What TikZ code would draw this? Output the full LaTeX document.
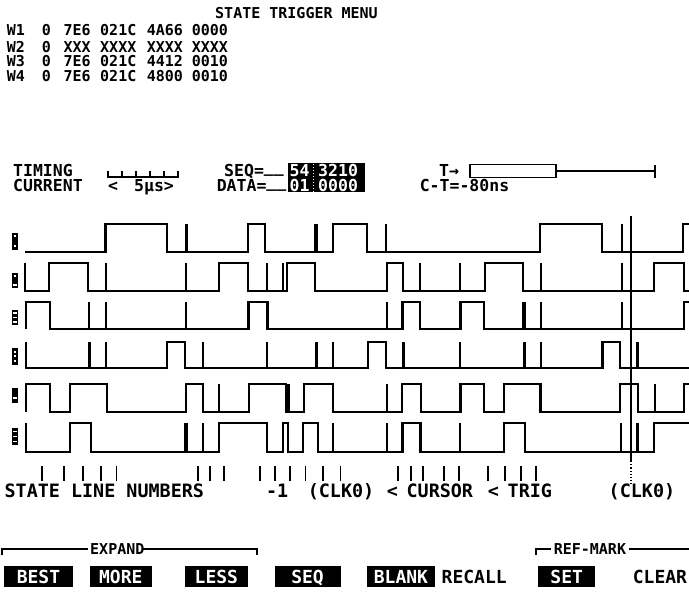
\documentclass[tikz,border=0pt]{standalone}
\usepackage{fontspec}
\newfontfamily\scr{DejaVu Sans Mono}
\tikzset{
  wave/.style={line width=2.1pt, line join=miter},
  spk/.style={line width=2.1pt},
  tspk/.style={line width=3.4pt},
  ttop/.style={font=\scr\bfseries\fontsize{15}{15}\selectfont, anchor=base west, inner sep=0pt, text height=11pt, text depth=0pt},
  tmid/.style={font=\scr\bfseries\fontsize{16.5}{16.5}\selectfont, anchor=base west, inner sep=0pt, text height=12pt, text depth=0pt},
  tbot/.style={font=\scr\bfseries\fontsize{18.4}{18.4}\selectfont, anchor=base west, inner sep=0pt, text height=13pt, text depth=0pt},
  tsmall/.style={font=\scr\bfseries\fontsize{15}{15}\selectfont, anchor=base west, inner sep=0pt, text height=11pt, text depth=0pt},
  btn/.style={fill=black, text=white, font=\scr\bfseries\fontsize{18}{18}\selectfont, inner sep=0pt, minimum height=21pt, text height=13pt, text depth=0pt},
  tbtn/.style={font=\scr\bfseries\fontsize{18}{18}\selectfont, anchor=base west, inner sep=0pt, text height=13pt, text depth=0pt},
  tick/.style={line width=1.8pt},
  lbl/.style={fill=black},
  wmark/.style={fill=white},
}
\newcommand{\usc}{\raisebox{3.2pt}{\_\_}}
\begin{document}
\begin{tikzpicture}[x=1pt,y=-1pt]
\fill[white] (0,0) rectangle (689,596);
\path[use as bounding box] (0,0) rectangle (689,596);

% ---------- top menu ----------
\node[ttop] (title) at (215,19) {STATE TRIGGER MENU};
\node[ttop] (w1a) at (6.7,35.9) {W1};
\node[ttop] (w1b) at (41.7,35.9) {0};
\node[ttop] (w1c) at (63.3,35.9) {7E6};
\node[ttop] (w1d) at (100,35.9) {021C};
\node[ttop] (w1e) at (146.7,35.9) {4A66};
\node[ttop] (w1f) at (191.7,35.9) {0000};
\node[ttop] (w2a) at (6.7,52.1) {W2};
\node[ttop] (w2b) at (41.7,52.1) {0};
\node[ttop] (w2c) at (63.3,52.1) {XXX};
\node[ttop] (w2d) at (100,52.1) {XXXX};
\node[ttop] (w2e) at (146.7,52.1) {XXXX};
\node[ttop] (w2f) at (191.7,52.1) {XXXX};
\node[ttop] (w3a) at (6.7,66.7) {W3};
\node[ttop] (w3b) at (41.7,66.7) {0};
\node[ttop] (w3c) at (63.3,66.7) {7E6};
\node[ttop] (w3d) at (100,66.7) {021C};
\node[ttop] (w3e) at (146.7,66.7) {4412};
\node[ttop] (w3f) at (191.7,66.7) {0010};
\node[ttop] (w4a) at (6.7,81.7) {W4};
\node[ttop] (w4b) at (41.7,81.7) {0};
\node[ttop] (w4c) at (63.3,81.7) {7E6};
\node[ttop] (w4d) at (100,81.7) {021C};
\node[ttop] (w4e) at (146.7,81.7) {4800};
\node[ttop] (w4f) at (191.7,81.7) {0010};

% ---------- status area ----------
\node[tmid] (timing) at (13,176.2) {TIMING};
\node[tmid] (current) at (13,191.2) {CURRENT};
\draw[line width=1.8pt] (108,171) -- (108,177) -- (178,177) -- (178,171);
\foreach \x in {122,136,150,164} \draw[line width=1.8pt] (\x,177) -- (\x,171);
\node[tmid] (lt) at (108,191.2) {<};
\node[tmid] (us) at (134,191.2) {5μs>};
\node[tmid] (seq) at (224,176.2) {SEQ=\usc};
\node[tmid] (data) at (216.6,191.2) {DATA=\usc};
\fill (288,163.5) rectangle (365,192.5);
\draw[white, dotted, line width=1pt] (313,164) -- (313,192);
\node[tmid, text=white] (seqa) at (289.5,176.2) {54};
\node[tmid, text=white] (seqb) at (318,176.2) {3210};
\node[tmid, text=white] (data) at (289.5,191.2) {01};
\node[tmid, text=white] (datb) at (318,191.2) {0000};
\node[tmid] (tarrow) at (439,176.2) {T→};
\draw[line width=1.8pt] (470,164.5) rectangle (556,177.5);
\draw[line width=1.8pt] (556,171) -- (654.6,171);
\draw[line width=1.8pt] (654.6,165) -- (654.6,178);
\node[tmid] (ct) at (419.6,191.2) {C-T=-80ns};

% ---------- channel labels ----------
\fill[lbl] (11.7,233) rectangle (18.3,250);
\fill[wmark] (14,235.5) rectangle (16,237.5);
\fill[wmark] (14,245.5) rectangle (16,247.5);
\fill[lbl] (11.7,273) rectangle (18.3,288);
\fill[wmark] (14,275.5) rectangle (16,277.5);
\fill[wmark] (13,284) rectangle (17,285.7);
\fill[lbl] (11.7,310) rectangle (18.3,325);
\foreach \y in {313,317.5,322} \fill[wmark] (13,\y-0.8) rectangle (17,\y+0.8);
\fill[lbl] (11.7,348) rectangle (18.3,365);
\foreach \y in {352,356.5,361} \fill[wmark] (14,\y-1) rectangle (16,\y+1);
\fill[lbl] (11.7,388) rectangle (18.3,403);
\fill[wmark] (13,397.2) rectangle (17,398.8);
\fill[lbl] (11.7,428) rectangle (18.3,445);
\foreach \y in {431.5,436.5,441.5} \fill[wmark] (13,\y-0.8) rectangle (17,\y+0.8);

% ---------- waveforms ----------
% row 1
\def\wh{224}\def\wl{252}
\draw[wave] (25,\wl) -| (105.5,\wh) -| (167,\wl) -| (248,\wh) -| (265,\wl) -| (332.6,\wh) -| (367,\wl) -| (540.4,\wh) -| (602,\wl) -| (683.3,\wh) -- (689,\wh);
\foreach \x in {186.5,386,621.7} \draw[spk] (\x,\wl) -- (\x,\wh);
\foreach \x in {316} \draw[tspk] (\x,\wl) -- (\x,\wh);
% row 2
\def\wh{262.7}\def\wl{290.7}
\draw[wave] (25,\wh) -- (25,\wl) -| (49.3,\wh) -| (88.3,\wl) -| (219.3,\wh) -| (248.3,\wl) -| (286.7,\wh) -| (315,\wl) -| (387.3,\wh) -| (403.3,\wl) -| (485.3,\wh) -| (523,\wl) -| (654,\wh) -| (684,\wl) -- (689,\wl);
\foreach \x in {106,185.7,266.7,282.7,420.3,460.4,541.4,621.7} \draw[spk] (\x,\wl) -- (\x,\wh);
% row 3
\def\wh{301.7}\def\wl{329.3}
\draw[wave] (26,\wl) -- (26,\wh) -| (50,\wl) -| (248.5,\wh) -| (267.5,\wl) -| (402.5,\wh) -| (420,\wl) -| (460.5,\wh) -| (484.2,\wl) -| (683.8,\wh) -- (689,\wh);
\foreach \x in {89.3,106,185.7,387,541.4,621.7} \draw[spk] (\x,\wl) -- (\x,\wh);
\foreach \x in {524} \draw[tspk] (\x,\wl) -- (\x,\wh);
% row 4
\def\wh{341.7}\def\wl{368.3}
\draw[wave] (26,\wh) -- (26,\wl) -| (166.7,\wh) -| (185,\wl) -| (367.8,\wh) -| (386.2,\wl) -| (602.5,\wh) -| (620,\wl) -- (689,\wl);
\foreach \x in {106.3,202.7,266.7,333.3,460.4,541.4} \draw[spk] (\x,\wl) -- (\x,\wh);
\foreach \x in {89.7,316.7,403.7,524.3,637.7} \draw[tspk] (\x,\wl) -- (\x,\wh);
% row 5
\def\wh{384.3}\def\wl{411.7}
\draw[wave] (26,\wl) -- (26,\wh) -| (50,\wl) -| (70,\wh) -| (106.7,\wl) -| (185.7,\wh) -| (203.3,\wl) -| (248.7,\wh) -| (286,\wl) -| (303.7,\wh) -| (333.3,\wl) -| (402.2,\wh) -| (421.4,\wl) -| (460.5,\wh) -| (484.2,\wl) -| (503.8,\wh) -| (540.5,\wl) -| (620.4,\wh) -| (638.3,\wl) -| (683.8,\wh) -- (689,\wh);
\foreach \x in {219.2,288.5,387,655} \draw[spk] (\x,\wl) -- (\x,\wh);
% row 6
\def\wh{423.3}\def\wl{451.7}
\draw[wave] (26,\wh) -- (26,\wl) -| (70.3,\wh) -| (91,\wl) -| (219.3,\wh) -| (267.2,\wl) -| (283.3,\wh) -| (288,\wl) -| (302.7,\wh) -| (318.2,\wl) -| (402.5,\wh) -| (420.5,\wl) -| (503.8,\wh) -| (525.4,\wl) -| (654,\wh) -- (689,\wh);
\foreach \x in {202.9,333.3,387,460.4,621} \draw[spk] (\x,\wl) -- (\x,\wh);
\foreach \x in {186,637.2} \draw[tspk] (\x,\wl) -- (\x,\wh);

% cursor
\draw[line width=1.2pt] (631,216) -- (631,461);
\draw[line width=1.2pt, dotted] (631,461) -- (631,484);

% ---------- state line ticks ----------
\foreach \x in {41.7,63.7,83,101,116.4,197.7,210,224,260,274.6,290,305.4,323,340.5,397.6,410.8,422.7,443.7,459.1,487.7,505.3,520.6,536}
  \draw[tick] (\x,466) -- (\x,481);
\node[tbot] (sln) at (4.4,497.7) {STATE LINE NUMBERS};
\node[tbot] (m1) at (265.8,497.7) {-1};
\node[tbot] (clka) at (307.6,497.7) {(CLK0)};
\node[tbot] (lta) at (386.6,497.7) {<};
\node[tbot] (cursor) at (406.4,497.7) {CURSOR};
\node[tbot] (ltb) at (487.7,497.7) {<};
\node[tbot] (trig) at (507.5,497.7) {TRIG};
\node[tbot] (clkb) at (608.5,497.7) {(CLK0)};

% ---------- softkeys ----------
\draw[line width=1.5pt] (2,555) -- (2,549) -- (88,549);
\draw[line width=1.5pt] (143,549) -- (257,549) -- (257,555);
\node[tsmall] (expand) at (90,554.5) {EXPAND};
\draw[line width=1.5pt] (536,555) -- (536,549) -- (551,549);
\draw[line width=1.5pt] (629,549) -- (689,549);
\node[tsmall] (refmark) at (553.6,554.5) {REF-MARK};

\node[btn, minimum width=68.1pt] (best) at (38.45,576.5) {BEST};
\node[btn, minimum width=61.6pt] (more) at (120.8,576.5) {MORE};
\node[btn, minimum width=63.7pt] (less) at (216.35,576.5) {LESS};
\node[btn, minimum width=65.9pt] (seqk) at (307.55,576.5) {SEQ};
\node[btn, minimum width=68.1pt] (blank) at (400.95,576.5) {BLANK};
\node[tbtn] (recall) at (441.5,583) {RECALL};
\node[btn, minimum width=57.1pt] (set) at (566.75,576.5) {SET};
\node[tbtn] (clear) at (632.7,583) {CLEAR};
\end{tikzpicture}
\end{document}
